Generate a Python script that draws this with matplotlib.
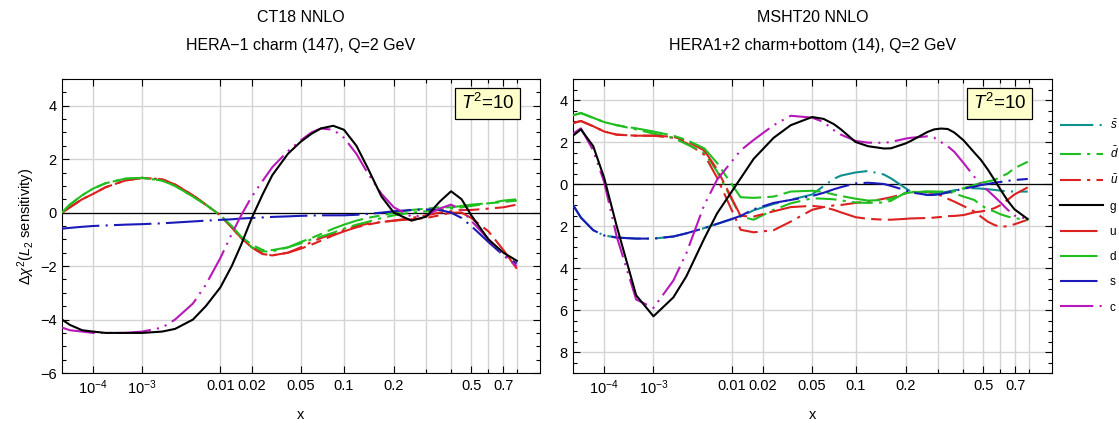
import numpy as np
import matplotlib
matplotlib.use('Agg')
import matplotlib.pyplot as plt
from matplotlib.lines import Line2D
from matplotlib.ticker import FixedLocator, FixedFormatter, MultipleLocator

matplotlib.rcParams.update({
    'font.family': ['Liberation Sans', 'DejaVu Sans'],
    'mathtext.fontset': 'custom',
    'mathtext.rm': 'Liberation Sans',
    'mathtext.it': 'Liberation Sans:italic',
    'mathtext.bf': 'Liberation Sans:bold',
    'font.size': 10,
    'axes.linewidth': 0.8,
})

# ---- CT18 NNLO (left) ----
x_ct = [1e-5, 2e-5, 5e-5, 1e-4, 2e-4, 5e-4, 1e-3, 2e-3, 3e-3, 5e-3, 7e-3, 0.01,
        0.013, 0.016, 0.02, 0.025, 0.03, 0.04, 0.05, 0.06, 0.07, 0.085, 0.1,
        0.12, 0.14, 0.17, 0.2, 0.25, 0.3, 0.35, 0.4, 0.45, 0.5, 0.6, 0.7, 0.8]
ct_g = [-4.0, -4.2, -4.4, -4.45, -4.5, -4.5, -4.5, -4.45, -4.35, -4.0, -3.5, -2.8,
        -2.0, -1.2, -0.2, 0.7, 1.4, 2.2, 2.65, 2.95, 3.15, 3.25, 3.1,
        2.5, 1.7, 0.6, 0.0, -0.3, -0.15, 0.4, 0.8, 0.5, -0.1, -1.0, -1.5, -1.8]
ct_c = [-4.3, -4.4, -4.45, -4.5, -4.5, -4.5, -4.45, -4.3, -4.0, -3.4, -2.7, -1.7,
        -0.8, -0.1, 0.6, 1.2, 1.7, 2.3, 2.7, 3.0, 3.15, 3.1, 2.8,
        2.2, 1.5, 0.7, 0.2, -0.15, -0.1, 0.15, 0.3, 0.1, -0.3, -1.0, -1.6, -2.0]
ct_d = [0.0, 0.3, 0.65, 0.9, 1.1, 1.27, 1.3, 1.2, 1.0, 0.6, 0.3, -0.1,
        -0.5, -0.9, -1.2, -1.4, -1.4, -1.3, -1.1, -0.95, -0.8, -0.6, -0.45,
        -0.3, -0.2, -0.1, 0.0, 0.1, 0.15, 0.2, 0.2, 0.25, 0.3, 0.35, 0.4, 0.45]
ct_dbar = [0.0, 0.3, 0.65, 0.9, 1.1, 1.27, 1.3, 1.2, 1.0, 0.6, 0.3, -0.1,
           -0.55, -0.95, -1.3, -1.45, -1.45, -1.3, -1.15, -1.0, -0.9, -0.75, -0.6,
           -0.45, -0.35, -0.2, -0.1, 0.0, 0.05, 0.1, 0.15, 0.2, 0.25, 0.35, 0.45, 0.5]
ct_u = [0.0, 0.2, 0.5, 0.7, 0.95, 1.2, 1.3, 1.25, 1.05, 0.65, 0.3, -0.1,
        -0.55, -0.95, -1.3, -1.55, -1.6, -1.5, -1.35, -1.2, -1.05, -0.85, -0.7,
        -0.55, -0.45, -0.35, -0.3, -0.25, -0.2, -0.1, 0.0, 0.0, -0.2, -0.7, -1.4, -2.1]
ct_ubar = [0.0, 0.2, 0.5, 0.7, 0.95, 1.2, 1.3, 1.25, 1.05, 0.65, 0.3, -0.1,
           -0.55, -0.95, -1.3, -1.55, -1.6, -1.5, -1.3, -1.1, -0.95, -0.8, -0.65,
           -0.5, -0.42, -0.35, -0.3, -0.2, -0.1, 0.0, 0.05, 0.1, 0.1, 0.15, 0.2, 0.3]
ct_s = [-0.6, -0.57, -0.53, -0.5, -0.48, -0.45, -0.43, -0.4, -0.37, -0.33, -0.3, -0.27,
        -0.25, -0.22, -0.2, -0.18, -0.16, -0.14, -0.12, -0.11, -0.1, -0.1, -0.1,
        -0.08, -0.05, 0.0, 0.05, 0.1, 0.12, 0.1, 0.0, -0.2, -0.5, -1.1, -1.6, -1.9]

# ---- MSHT20 NNLO (right) ----
x_ms = [1e-5, 2e-5, 5e-5, 1e-4, 2e-4, 5e-4, 1e-3, 2e-3, 3e-3, 5e-3, 7e-3, 0.0123,
        0.0164, 0.0247, 0.0342, 0.05, 0.0606, 0.0716, 0.08, 0.1, 0.12, 0.15,
        0.165, 0.2, 0.214, 0.264, 0.286, 0.31, 0.336, 0.363, 0.403, 0.454,
        0.488, 0.525, 0.564, 0.604, 0.648, 0.693, 0.792]
ms_g = [2.3, 2.6, 1.8, 0.3, -2.0, -5.3, -6.3, -5.4, -4.4, -2.6, -1.4, 0.27,
        1.2, 2.2, 2.8, 3.19, 3.1, 2.85, 2.6, 2.0, 1.8, 1.69,
        1.7, 1.93, 2.05, 2.48, 2.6, 2.64, 2.62, 2.45, 2.08, 1.5,
        1.15, 0.7, 0.2, -0.3, -0.8, -1.2, -1.67]
ms_c = [2.4, 2.65, 1.6, 0.1, -2.5, -5.5, -5.9, -4.6, -3.3, -1.0, 0.2, 1.6,
        2.1, 2.8, 3.25, 3.16, 2.95, 2.56, 2.35, 2.05, 1.97, 1.96,
        2.0, 2.16, 2.2, 2.27, 2.2, 2.0, 1.8, 1.53, 1.0, 0.35,
        -0.05, -0.3, -0.6, -0.9, -1.23, -1.5, -1.67]
ms_s = [-1.0, -1.6, -2.2, -2.45, -2.55, -2.6, -2.6, -2.5, -2.35, -2.1, -1.9, -1.52,
        -1.2, -0.9, -0.76, -0.57, -0.42, -0.25, -0.15, 0.03, 0.06, 0.0,
        -0.09, -0.3, -0.4, -0.52, -0.52, -0.48, -0.4, -0.33, -0.22, -0.13,
        -0.05, 0.0, 0.06, 0.1, 0.15, 0.19, 0.24]
ms_sbar = [-1.0, -1.6, -2.2, -2.45, -2.55, -2.6, -2.6, -2.5, -2.35, -2.1, -1.9, -1.55,
           -1.25, -0.95, -0.75, -0.5, -0.1, 0.25, 0.4, 0.55, 0.62, 0.45,
           0.27, -0.2, -0.36, -0.52, -0.48, -0.42, -0.36, -0.3, -0.22, -0.2,
           -0.22, -0.25, -0.28, -0.32, -0.35, -0.36, -0.36]
ms_d = [3.27, 3.38, 3.15, 2.95, 2.8, 2.65, 2.5, 2.3, 2.1, 1.7, 1.0, -0.63,
        -0.66, -0.6, -0.36, -0.32, -0.38, -0.5, -0.57, -0.7, -0.79, -0.76,
        -0.7, -0.44, -0.4, -0.36, -0.37, -0.4, -0.41, -0.35, -0.2, -0.05,
        0.05, 0.12, 0.19, 0.35, 0.5, 0.75, 1.06]
ms_dbar = [3.27, 3.38, 3.15, 2.95, 2.8, 2.6, 2.4, 2.2, 1.9, 1.5, 0.6, -1.55,
           -1.7, -1.23, -0.92, -0.68, -0.7, -0.73, -0.78, -0.88, -0.9, -0.88,
           -0.8, -0.41, -0.38, -0.36, -0.36, -0.36, -0.36, -0.45, -0.6, -0.76,
           -1.0, -1.2, -1.31, -1.45, -1.55, -1.63, -1.7]
ms_u = [2.9, 3.0, 2.75, 2.5, 2.35, 2.3, 2.3, 2.25, 2.05, 1.6, 0.7, -1.52,
        -1.55, -1.3, -1.1, -1.04, -1.1, -1.23, -1.35, -1.58, -1.66, -1.7,
        -1.7, -1.66, -1.64, -1.62, -1.6, -1.57, -1.53, -1.52, -1.48, -1.35,
        -1.31, -1.25, -1.15, -1.0, -0.75, -0.5, -0.16]
ms_ubar = [2.9, 3.0, 2.75, 2.5, 2.35, 2.3, 2.3, 2.2, 1.95, 1.4, 0.3, -2.18,
           -2.3, -2.2, -1.79, -1.23, -1.1, -1.02, -1.0, -0.9, -0.84, -0.7,
           -0.63, -0.45, -0.38, -0.38, -0.44, -0.55, -0.7, -0.84, -1.05, -1.31,
           -1.55, -1.79, -1.95, -2.05, -2.0, -1.92, -1.7]

xticks = [1e-4, 1e-3, 0.01, 0.02, 0.05, 0.1, 0.2, 0.5, 0.7]
xticklabels = [r'$10^{-4}$', r'$10^{-3}$', '0.01', '0.02', '0.05', '0.1', '0.2', '0.5', '0.7']
xgrid = [1e-4, 1e-3, 0.01, 0.02, 0.05, 0.1, 0.2, 0.3, 0.4, 0.5, 0.6, 0.7, 0.8]

TEAL = '#0f8f8f'
GREEN = '#1fbf1f'
RED = '#dd2020'
BLUE = '#1a1ab8'
MAGENTA = '#b818b8'

styles = {
    'sbar': dict(color=TEAL, ls=(0, (16, 3, 1, 3))),
    'dbar': dict(color=GREEN, ls=(0, (10, 3, 1.5, 3))),
    'ubar': dict(color=RED, ls=(0, (10, 3, 1.5, 3))),
    'g': dict(color='black', ls='-'),
    'u': dict(color=RED, ls=(0, (18, 3, 5, 3))),
    'd': dict(color=GREEN, ls=(0, (18, 3, 5, 3))),
    's': dict(color=BLUE, ls=(0, (18, 3, 1, 3))),
    'c': dict(color=MAGENTA, ls=(0, (16, 3, 1, 3, 1, 3))),
}
labels = {'sbar': r'$\bar{s}$', 'dbar': r'$\bar{d}$', 'ubar': r'$\bar{u}$',
          'g': 'g', 'u': 'u', 'd': 'd', 's': 's', 'c': 'c'}

fig = plt.figure(figsize=(11.19, 4.23), dpi=100)
axL = fig.add_axes([62 / 1119, 1 - 373 / 423, 478 / 1119, 294 / 423])
axR = fig.add_axes([573 / 1119, 1 - 373 / 423, 479 / 1119, 294 / 423])


def fwd(x):
    return np.power(np.clip(x, 1e-12, None), 0.2)


def inv(t):
    return np.power(np.clip(t, 0, None), 5.0)


def setup(ax, ylim, title1, title2):
    ax.set_xscale('function', functions=(fwd, inv))
    ax.set_xlim(1e-5, 1.0)
    ax.set_ylim(*ylim)
    for xv in xgrid:
        ax.axvline(xv, color='#d4d4d4', lw=1.0, zorder=0)
    for yv in range(int(np.ceil(ylim[0] / 2) * 2), int(ylim[1]) + 1, 2):
        ax.axhline(yv, color='#d4d4d4', lw=1.0, zorder=0)
    ax.axhline(0, color='black', lw=0.9, zorder=1)
    ax.xaxis.set_major_locator(FixedLocator(xticks))
    ax.xaxis.set_major_formatter(FixedFormatter(xticklabels))
    ax.xaxis.set_minor_locator(FixedLocator([0.3, 0.4, 0.6, 0.8]))
    ax.yaxis.set_major_locator(MultipleLocator(2))
    ax.yaxis.set_minor_locator(MultipleLocator(0.5))
    ax.tick_params(which='both', direction='in', top=True, right=True,
                   labelsize=10.5, pad=4)
    ax.tick_params(which='major', length=5, width=0.8)
    ax.tick_params(which='minor', length=3, width=0.8)
    ax.set_xlabel('x', fontsize=10.5, labelpad=8)
    ax.set_title(title1 + '\n' + title2, fontsize=11.5, linespacing=2.05, pad=21)
    ax.text(0.891, 0.917, r'$T^2$=10', transform=ax.transAxes, ha='center',
            va='center', fontsize=13.5,
            bbox=dict(boxstyle='square,pad=0.3', facecolor='#ffffcc',
                      edgecolor='black', linewidth=0.9), zorder=6)


setup(axL, (-6, 5), 'CT18 NNLO', 'HERA\u22121 charm (147), Q=2 GeV')
setup(axR, (-9, 5), 'MSHT20 NNLO', 'HERA1+2 charm+bottom (14), Q=2 GeV')

axL.set_ylabel(r'$\Delta\chi^2(L_2$ sensitivity)', fontsize=10.5, labelpad=2)
axR.set_yticks([4, 2, 0, -2, -4, -6, -8])
axR.set_yticklabels(['4', '2', '0', '2', '4', '6', '8'])

lw = 1.5
left_series = [('ubar', ct_ubar), ('dbar', ct_dbar), ('u', ct_u), ('d', ct_d),
               ('s', ct_s), ('c', ct_c), ('g', ct_g)]
for key, vals in left_series:
    axL.plot(x_ct, vals, lw=lw, zorder=3, **styles[key])

right_series = [('sbar', ms_sbar), ('ubar', ms_ubar), ('dbar', ms_dbar), ('u', ms_u),
                ('d', ms_d), ('s', ms_s), ('c', ms_c), ('g', ms_g)]
for key, vals in right_series:
    axR.plot(x_ms, vals, lw=lw, zorder=3, **styles[key])

order = ['sbar', 'dbar', 'ubar', 'g', 'u', 'd', 's', 'c']
handles = [Line2D([], [], lw=lw, **styles[k]) for k in order]
fig.legend(handles, [labels[k] for k in order],
           loc='upper left', bbox_to_anchor=(1060 / 1119, 1 - 119 / 423),
           frameon=False, fontsize=8.5, handlelength=3.6, handletextpad=0.6,
           labelspacing=1.12, borderaxespad=0, borderpad=0)

fig.savefig('out.png', dpi=100)
